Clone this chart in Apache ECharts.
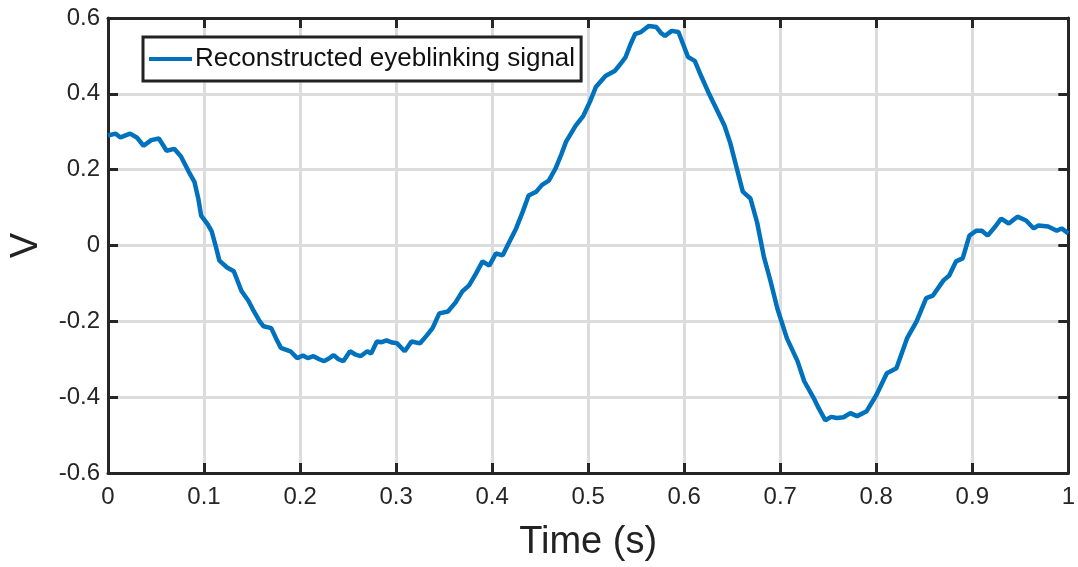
<!DOCTYPE html>
<html>
<head>
<meta charset="utf-8">
<script src="https://cdn.jsdelivr.net/npm/echarts@6/dist/echarts.min.js"></script>
<style>
  html, body { margin: 0; padding: 0; background: #fff; }
  #chart { width: 1078px; height: 567px; }
</style>
</head>
<body>
<div id="chart"></div>
<script>
// time (s) and voltage
var tSec = [0.000,0.008,0.013,0.023,0.030,0.037,0.045,0.053,0.061,0.069,0.076,0.084,0.090,0.094,0.097,0.104,0.108,0.112,0.116,0.124,
  0.131,0.139,0.146,0.152,0.158,0.162,0.170,0.175,0.180,0.190,0.197,0.203,0.208,0.214,0.220,0.225,0.230,0.235,0.240,0.245,
  0.252,0.258,0.263,0.270,0.274,0.280,0.285,0.290,0.296,0.301,0.309,0.316,0.325,0.332,0.338,0.345,0.354,0.362,0.369,0.376,
  0.383,0.390,0.397,0.404,0.411,0.418,0.425,0.432,0.438,0.446,0.452,0.459,0.466,0.472,0.477,0.487,0.495,0.502,0.508,0.518,
  0.528,0.534,0.539,0.544,0.549,0.555,0.563,0.571,0.576,0.580,0.587,0.594,0.599,0.604,0.611,0.618,0.625,0.635,0.642,0.648,
  0.653,0.661,0.669,0.676,0.683,0.690,0.697,0.707,0.718,0.725,0.735,0.740,0.747,0.753,0.759,0.766,0.773,0.780,0.790,0.800,
  0.811,0.821,0.832,0.842,0.852,0.859,0.870,0.876,0.883,0.890,0.897,0.904,0.910,0.916,0.924,0.930,0.938,0.947,0.956,0.964,
  0.969,0.979,0.988,0.993,1.000];
var volts = [0.29,0.295,0.285,0.295,0.285,0.263,0.278,0.282,0.25,0.255,0.235,0.195,0.168,0.124,0.079,0.055,0.037,0.0,-0.04,-0.058,
  -0.068,-0.12,-0.145,-0.174,-0.2,-0.213,-0.218,-0.245,-0.27,-0.279,-0.297,-0.29,-0.297,-0.292,-0.3,-0.305,-0.298,-0.289,-0.3,-0.305,
  -0.279,-0.288,-0.292,-0.279,-0.285,-0.253,-0.255,-0.25,-0.256,-0.258,-0.279,-0.253,-0.258,-0.237,-0.218,-0.179,-0.174,-0.15,-0.121,-0.105,
  -0.075,-0.042,-0.053,-0.021,-0.026,0.01,0.045,0.09,0.132,0.142,0.16,0.171,0.203,0.24,0.274,0.316,0.342,0.38,0.418,0.447,
  0.461,0.48,0.497,0.53,0.558,0.563,0.579,0.576,0.56,0.553,0.566,0.563,0.53,0.497,0.487,0.445,0.405,0.353,0.316,0.27,
  0.221,0.142,0.124,0.06,-0.03,-0.095,-0.166,-0.245,-0.305,-0.358,-0.403,-0.429,-0.461,-0.452,-0.455,-0.453,-0.442,-0.45,-0.437,-0.395,
  -0.337,-0.324,-0.245,-0.2,-0.139,-0.132,-0.092,-0.079,-0.042,-0.034,0.026,0.039,0.039,0.026,0.05,0.071,0.058,0.076,0.066,0.045,
  0.053,0.05,0.039,0.045,0.032];
var seriesName = 'Reconstructed eyeblinking signal';

var points = tSec.map(function (t, i) { return [t, volts[i]]; });

var chart = echarts.init(document.getElementById('chart'));

var axisDark = '#262626';
var gridGray = '#dcdcdc';
var font = '"Liberation Sans", Arial, sans-serif';

// the box: top and right axes carry only the inward ticks
function boxAxis(pos, min, max, step) {
    return {
        type: 'value',
        position: pos,
        min: min, max: max, interval: step,
        axisLine: { show: true, onZero: false, lineStyle: { color: axisDark, width: 3 } },
        axisTick: { show: true, inside: true, length: 10, lineStyle: { color: axisDark, width: 3 } },
        axisLabel: { show: false },
        splitLine: { show: false }
    };
}

var option = {
    animation: false,
    backgroundColor: '#fff',
    grid: { left: 106, right: 5, top: 18, bottom: 91 },
    legend: {
        left: 143,
        top: 37,
        itemWidth: 43,
        itemHeight: 4,
        itemGap: 0,
        padding: [9, 6, 9, 6],
        borderColor: '#222',
        borderWidth: 3,
        backgroundColor: '#fff',
        icon: 'rect',
        textStyle: { fontFamily: font, fontSize: 26, color: '#111', padding: [0, 0, 0, -2] },
        data: [seriesName]
    },
    xAxis: [{
        type: 'value',
        min: 0, max: 1, interval: 0.1,
        name: 'Time (s)',
        nameLocation: 'middle',
        nameGap: 51,
        nameTextStyle: { fontFamily: font, fontSize: 38, color: '#222' },
        axisLine: { onZero: false, lineStyle: { color: axisDark, width: 3 } },
        axisTick: { inside: true, length: 10, lineStyle: { color: axisDark, width: 3 } },
        axisLabel: { fontFamily: font, fontSize: 24, color: axisDark, margin: 12 },
        splitLine: { show: true, lineStyle: { color: gridGray, width: 3 } }
    }, boxAxis('top', 0, 1, 0.1)],
    yAxis: [{
        type: 'value',
        min: -0.6, max: 0.6, interval: 0.2,
        name: 'V',
        nameLocation: 'middle',
        nameGap: 62,
        nameTextStyle: { fontFamily: font, fontSize: 38, color: '#222' },
        axisLine: { onZero: false, lineStyle: { color: axisDark, width: 3 } },
        axisTick: { inside: true, length: 10, lineStyle: { color: axisDark, width: 3 } },
        axisLabel: { fontFamily: font, fontSize: 24, color: axisDark, margin: 8,
            formatter: function (v) { return +v.toFixed(1) + ''; } },
        splitLine: { show: true, lineStyle: { color: gridGray, width: 3 } }
    }, boxAxis('right', -0.6, 0.6, 0.2)],
    series: [{
        name: seriesName,
        type: 'line',
        data: points,
        showSymbol: false,
        smooth: false,
        color: '#0072BD',
        lineStyle: { color: '#0072BD', width: 4.5 },
        z: 1
    }]
};

chart.setOption(option);
</script>
</body>
</html>
